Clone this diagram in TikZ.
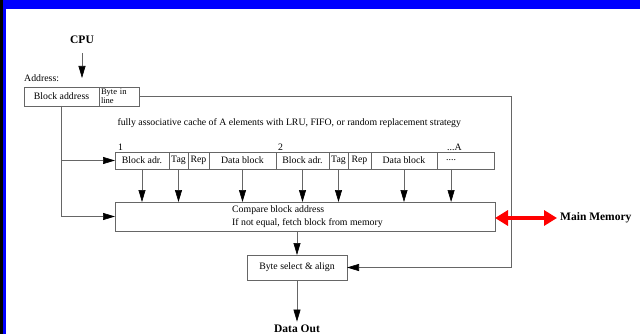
\documentclass[tikz,border=0pt]{standalone}
\usepackage{fontspec}
\setmainfont{Liberation Serif}
\usetikzlibrary{arrows.meta,positioning,calc}

\begin{document}
\begin{tikzpicture}[x=1pt,y=-1pt,
    txt/.style={font=\fontsize{9.8}{13}\selectfont},
    box/.style={draw=black!60,line width=0.6pt,inner sep=0pt,outer sep=0pt,txt},
    cell/.style={box,anchor=north west,minimum height=17},
    arr/.style={draw=black!60,line width=0.6pt,-{Triangle[length=12pt,width=7pt,color=black]}},
    big/.style={font=\fontsize{11.5}{12}\selectfont\bfseries}]
  \useasboundingbox (0,0) rectangle (640,334);
  % frame
  \fill[blue] (3,0) rectangle (640,9);
  \fill[blue] (3,0) rectangle (6,334);
  \fill[black] (0,0) rectangle (3,334);

  % address
  \node[big] (cpu) at (82,40) {CPU};
  \node[txt,anchor=west,inner sep=0pt] (addr) at (24,78) {Address:};
  \node[box,anchor=north west,minimum width=75,minimum height=19] (blk) at (24,87) {Block address};
  \node[box,anchor=north west,minimum width=40,minimum height=19,text width=36,align=left,
        font=\fontsize{8.5}{7.5}\selectfont] (bil) at (99,87) {Byte in\\line};
  \draw[arr] ([yshift=-6pt]cpu.south) -- ($(cpu.south |- blk.north)+(0,-9)$);

  \node[txt,anchor=west] (cap) at (114,123) {fully associative cache of A elements with LRU, FIFO, or random replacement strategy};

  % cache line
  \foreach \nm/\xa/\cw/\lbl in {ba1/115/54/{Block adr.},tg1/169/19/Tag,rp1/188/21/Rep,db1/209/67/{Data block},
                                ba2/276/53/{Block adr.},tg2/329/19/Tag,rp2/348/23/Rep,db2/371/66/{Data block}}
    \node[cell,minimum width=\cw] (\nm) at (\xa,152) {\lbl};
  \node[cell,minimum width=57] (dd) at (437,152) {};
  \node[txt,anchor=west,inner sep=0pt] (ddt) at ([xshift=9pt]dd.west) {....};
  \node[txt,anchor=south west,inner sep=1pt] (n1) at ([xshift=2pt]ba1.north west) {1};
  \node[txt,anchor=south west,inner sep=1pt] (n2) at ([xshift=1pt]ba2.north west) {2};
  \node[txt,anchor=south west,inner sep=1pt] (nA) at ([xshift=9pt]dd.north west) {...A};

  % compare and select
  \node[box,anchor=north west,minimum width=380,minimum height=29] (cmp) at (115,202) {};
  \node[txt,anchor=west,align=left,inner sep=0pt] (cmpt) at (232,216.5) {Compare block address\\If not equal, fetch block from memory};
  \node[box,minimum width=100,minimum height=25] (sel) at (297,267.5) {Byte select \& align};
  \node[big] (dout) at (297,329) {Data Out};
  \node[big,anchor=west,inner sep=0pt] (mm) at (560,218) {Main Memory};

  \foreach \nm in {ba1,tg1,db1,ba2,tg2,db2,ddt}
    \draw[arr] (\nm.south |- dd.south) -- (\nm.south |- cmp.north);
  \draw[arr] (blk.south) |- (ba1.west);
  \draw[arr] (blk.south) |- (cmp.west);
  \coordinate (rt) at (511,96.5);
  \draw[arr] (bil.east) -- (rt) |- (sel.east);
  \draw[arr] (sel.north |- cmp.south) -- (sel.north);
  \draw[arr] (sel.south) -- (dout.north);
  \draw[red,line width=4pt,{Triangle[length=13pt,width=15pt]}-{Triangle[length=13pt,width=15pt]}]
    (cmp.east |- mm.west) -- ([xshift=-3pt]mm.west);
\end{tikzpicture}
\end{document}
